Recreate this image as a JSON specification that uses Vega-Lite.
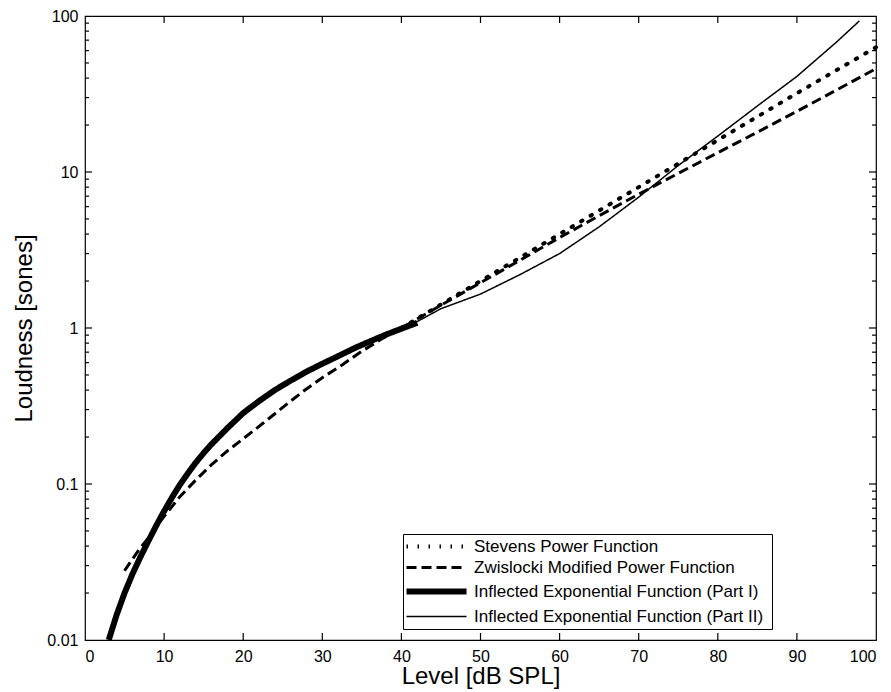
{
  "$schema": "https://vega.github.io/schema/vega-lite/v6.json",
  "width": 791,
  "height": 624,
  "autosize": {"type": "none"},
  "padding": {"left": 85, "top": 16, "right": 15, "bottom": 52},
  "background": "white",
  "config": {
    "font": "Liberation Sans",
    "view": {"stroke": "black", "strokeWidth": 1.2},
    "axis": {
      "domain": false,
      "grid": false,
      "ticks": false,
      "labelColor": "black",
      "titleColor": "black",
      "labelFont": "Liberation Sans",
      "titleFont": "Liberation Sans",
      "labelFontSize": 16,
      "titleFontSize": 24,
      "titleFontWeight": "normal"
    }
  },
  "datasets": {
    "xticks": [{"v": 10}, {"v": 20}, {"v": 30}, {"v": 40}, {"v": 50}, {"v": 60}, {"v": 70}, {"v": 80}, {"v": 90}],
    "ymajor": [{"v": 0.1}, {"v": 1}, {"v": 10}],
    "yminor": [
      {"v": 0.02}, {"v": 0.03}, {"v": 0.04}, {"v": 0.05}, {"v": 0.06}, {"v": 0.07}, {"v": 0.08}, {"v": 0.09},
      {"v": 0.2}, {"v": 0.3}, {"v": 0.4}, {"v": 0.5}, {"v": 0.6}, {"v": 0.7}, {"v": 0.8}, {"v": 0.9},
      {"v": 2}, {"v": 3}, {"v": 4}, {"v": 5}, {"v": 6}, {"v": 7}, {"v": 8}, {"v": 9},
      {"v": 20}, {"v": 30}, {"v": 40}, {"v": 50}, {"v": 60}, {"v": 70}, {"v": 80}, {"v": 90}
    ]
  },
  "data": {
    "values": [
      {"series": "Stevens Power Function", "level": 40, "loudness": 1.0},
      {"series": "Stevens Power Function", "level": 50, "loudness": 2.0},
      {"series": "Stevens Power Function", "level": 60, "loudness": 4.0},
      {"series": "Stevens Power Function", "level": 70, "loudness": 8.0},
      {"series": "Stevens Power Function", "level": 80, "loudness": 16.0},
      {"series": "Stevens Power Function", "level": 90, "loudness": 32.0},
      {"series": "Stevens Power Function", "level": 100, "loudness": 63.0},

      {"series": "Zwislocki Modified Power Function", "level": 5, "loudness": 0.0278},
      {"series": "Zwislocki Modified Power Function", "level": 6, "loudness": 0.033},
      {"series": "Zwislocki Modified Power Function", "level": 7, "loudness": 0.039},
      {"series": "Zwislocki Modified Power Function", "level": 8, "loudness": 0.045},
      {"series": "Zwislocki Modified Power Function", "level": 9, "loudness": 0.053},
      {"series": "Zwislocki Modified Power Function", "level": 10, "loudness": 0.062},
      {"series": "Zwislocki Modified Power Function", "level": 12, "loudness": 0.083},
      {"series": "Zwislocki Modified Power Function", "level": 14, "loudness": 0.106},
      {"series": "Zwislocki Modified Power Function", "level": 16, "loudness": 0.133},
      {"series": "Zwislocki Modified Power Function", "level": 18, "loudness": 0.163},
      {"series": "Zwislocki Modified Power Function", "level": 20, "loudness": 0.195},
      {"series": "Zwislocki Modified Power Function", "level": 22.5, "loudness": 0.245},
      {"series": "Zwislocki Modified Power Function", "level": 25, "loudness": 0.31},
      {"series": "Zwislocki Modified Power Function", "level": 27.5, "loudness": 0.39},
      {"series": "Zwislocki Modified Power Function", "level": 30, "loudness": 0.48},
      {"series": "Zwislocki Modified Power Function", "level": 32.5, "loudness": 0.58},
      {"series": "Zwislocki Modified Power Function", "level": 35, "loudness": 0.71},
      {"series": "Zwislocki Modified Power Function", "level": 37.5, "loudness": 0.85},
      {"series": "Zwislocki Modified Power Function", "level": 40, "loudness": 1.0},
      {"series": "Zwislocki Modified Power Function", "level": 45, "loudness": 1.4},
      {"series": "Zwislocki Modified Power Function", "level": 50, "loudness": 1.95},
      {"series": "Zwislocki Modified Power Function", "level": 55, "loudness": 2.72},
      {"series": "Zwislocki Modified Power Function", "level": 60, "loudness": 3.8},
      {"series": "Zwislocki Modified Power Function", "level": 65, "loudness": 5.25},
      {"series": "Zwislocki Modified Power Function", "level": 70, "loudness": 7.2},
      {"series": "Zwislocki Modified Power Function", "level": 75, "loudness": 9.8},
      {"series": "Zwislocki Modified Power Function", "level": 80, "loudness": 13.3},
      {"series": "Zwislocki Modified Power Function", "level": 85, "loudness": 18.0},
      {"series": "Zwislocki Modified Power Function", "level": 90, "loudness": 24.5},
      {"series": "Zwislocki Modified Power Function", "level": 95, "loudness": 33.5},
      {"series": "Zwislocki Modified Power Function", "level": 100, "loudness": 46.0},

      {"series": "Inflected Exponential Function (Part I)", "level": 3, "loudness": 0.01},
      {"series": "Inflected Exponential Function (Part I)", "level": 4, "loudness": 0.0145},
      {"series": "Inflected Exponential Function (Part I)", "level": 5, "loudness": 0.02},
      {"series": "Inflected Exponential Function (Part I)", "level": 6, "loudness": 0.0265},
      {"series": "Inflected Exponential Function (Part I)", "level": 7, "loudness": 0.034},
      {"series": "Inflected Exponential Function (Part I)", "level": 8, "loudness": 0.043},
      {"series": "Inflected Exponential Function (Part I)", "level": 9, "loudness": 0.054},
      {"series": "Inflected Exponential Function (Part I)", "level": 10, "loudness": 0.067},
      {"series": "Inflected Exponential Function (Part I)", "level": 11, "loudness": 0.082},
      {"series": "Inflected Exponential Function (Part I)", "level": 12, "loudness": 0.099},
      {"series": "Inflected Exponential Function (Part I)", "level": 13, "loudness": 0.117},
      {"series": "Inflected Exponential Function (Part I)", "level": 14, "loudness": 0.137},
      {"series": "Inflected Exponential Function (Part I)", "level": 15, "loudness": 0.158},
      {"series": "Inflected Exponential Function (Part I)", "level": 16, "loudness": 0.18},
      {"series": "Inflected Exponential Function (Part I)", "level": 18, "loudness": 0.228},
      {"series": "Inflected Exponential Function (Part I)", "level": 20, "loudness": 0.285},
      {"series": "Inflected Exponential Function (Part I)", "level": 22, "loudness": 0.34},
      {"series": "Inflected Exponential Function (Part I)", "level": 24, "loudness": 0.4},
      {"series": "Inflected Exponential Function (Part I)", "level": 26, "loudness": 0.46},
      {"series": "Inflected Exponential Function (Part I)", "level": 28, "loudness": 0.525},
      {"series": "Inflected Exponential Function (Part I)", "level": 30, "loudness": 0.59},
      {"series": "Inflected Exponential Function (Part I)", "level": 32, "loudness": 0.66},
      {"series": "Inflected Exponential Function (Part I)", "level": 34, "loudness": 0.74},
      {"series": "Inflected Exponential Function (Part I)", "level": 36, "loudness": 0.82},
      {"series": "Inflected Exponential Function (Part I)", "level": 38, "loudness": 0.905},
      {"series": "Inflected Exponential Function (Part I)", "level": 40, "loudness": 0.99},
      {"series": "Inflected Exponential Function (Part I)", "level": 42, "loudness": 1.08},

      {"series": "Inflected Exponential Function  (Part II)", "level": 40, "loudness": 1.0},
      {"series": "Inflected Exponential Function  (Part II)", "level": 42, "loudness": 1.1},
      {"series": "Inflected Exponential Function  (Part II)", "level": 45, "loudness": 1.33},
      {"series": "Inflected Exponential Function  (Part II)", "level": 50, "loudness": 1.65},
      {"series": "Inflected Exponential Function  (Part II)", "level": 55, "loudness": 2.2},
      {"series": "Inflected Exponential Function  (Part II)", "level": 60, "loudness": 3.0},
      {"series": "Inflected Exponential Function  (Part II)", "level": 65, "loudness": 4.45},
      {"series": "Inflected Exponential Function  (Part II)", "level": 70, "loudness": 6.9},
      {"series": "Inflected Exponential Function  (Part II)", "level": 75, "loudness": 11.0},
      {"series": "Inflected Exponential Function  (Part II)", "level": 80, "loudness": 17.0},
      {"series": "Inflected Exponential Function  (Part II)", "level": 85, "loudness": 26.5},
      {"series": "Inflected Exponential Function  (Part II)", "level": 90, "loudness": 41.0},
      {"series": "Inflected Exponential Function  (Part II)", "level": 95, "loudness": 68.0},
      {"series": "Inflected Exponential Function  (Part II)", "level": 97.9, "loudness": 93.0}
    ]
  },
  "layer": [
    {
      "transform": [{"filter": "datum.series === 'Stevens Power Function'"}],
      "mark": {"type": "line", "color": "black", "strokeWidth": 4, "strokeCap": "round"},
      "encoding": {
        "x": {"field": "level", "type": "quantitative", "scale": {"domain": [0, 100], "nice": false},
          "axis": {"orient": "bottom", "values": [0, 10, 20, 30, 40, 50, 60, 70, 80, 90, 100], "labelPadding": 8, "title": "Level [dB SPL]", "titlePadding": 0}},
        "y": {"field": "loudness", "type": "quantitative", "scale": {"type": "log", "domain": [0.01, 100], "nice": false},
          "axis": {"orient": "left", "values": [0.01, 0.1, 1, 10, 100], "format": "~g", "labelPadding": 7, "title": "Loudness [sones]", "titlePadding": 10}},
        "strokeDash": {
          "field": "series", "type": "nominal",
          "scale": {
            "domain": ["Stevens Power Function", "Zwislocki Modified Power Function", "Inflected Exponential Function (Part I)", "Inflected Exponential Function  (Part II)"],
            "range": [[1.5, 9.5], [10, 5], [1, 0], [1, 0]]
          },
          "legend": {
            "orient": "none",
            "legendX": 318,
            "legendY": 518,
            "title": null,
            "strokeColor": "black",
            "fillColor": "white",
            "padding": 4,
            "symbolType": "M-1,0H5.67",
            "symbolSize": 324,
            "symbolStrokeWidth": {"expr": "datum.value === 'Inflected Exponential Function (Part I)' ? 6 : datum.value === 'Inflected Exponential Function  (Part II)' ? 1.5 : datum.value === 'Stevens Power Function' ? 4 : 3"},
            "symbolStrokeColor": "black",
            "labelFont": "Liberation Sans",
            "labelFontSize": 17,
            "labelColor": "black",
            "labelOffset": 50,
            "labelLimit": 500,
            "rowPadding": 3,
            "zindex": 5
          }
        }
      }
    },
    {
      "transform": [{"filter": "datum.series === 'Zwislocki Modified Power Function'"}],
      "mark": {"type": "line", "color": "black", "strokeWidth": 3, "strokeCap": "butt"},
      "encoding": {
        "x": {"field": "level", "type": "quantitative", "axis": null},
        "y": {"field": "loudness", "type": "quantitative", "axis": null},
        "strokeDash": {"field": "series", "type": "nominal", "legend": null}
      }
    },
    {
      "transform": [{"filter": "datum.series === 'Inflected Exponential Function (Part I)'"}],
      "mark": {"type": "line", "color": "black", "strokeWidth": 6, "strokeCap": "butt"},
      "encoding": {
        "x": {"field": "level", "type": "quantitative", "axis": null},
        "y": {"field": "loudness", "type": "quantitative", "axis": null},
        "strokeDash": {"field": "series", "type": "nominal", "legend": null}
      }
    },
    {
      "transform": [{"filter": "datum.series === 'Inflected Exponential Function  (Part II)'"}],
      "mark": {"type": "line", "color": "black", "strokeWidth": 1.5, "strokeCap": "butt"},
      "encoding": {
        "x": {"field": "level", "type": "quantitative", "axis": null},
        "y": {"field": "loudness", "type": "quantitative", "axis": null},
        "strokeDash": {"field": "series", "type": "nominal", "legend": null}
      }
    },
    {
      "data": {"name": "xticks"},
      "mark": {"type": "tick", "orient": "vertical", "size": 7, "thickness": 1.2, "color": "black", "opacity": 1},
      "encoding": {
        "x": {"field": "v", "type": "quantitative", "axis": null},
        "y": {"datum": 0.01053, "type": "quantitative", "axis": null}
      }
    },
    {
      "data": {"name": "xticks"},
      "mark": {"type": "tick", "orient": "vertical", "size": 7, "thickness": 1.2, "color": "black", "opacity": 1},
      "encoding": {
        "x": {"field": "v", "type": "quantitative", "axis": null},
        "y": {"datum": 94.97, "type": "quantitative", "axis": null}
      }
    },
    {
      "data": {"name": "ymajor"},
      "mark": {"type": "tick", "orient": "horizontal", "size": 7, "thickness": 1.2, "color": "black", "opacity": 1},
      "encoding": {
        "y": {"field": "v", "type": "quantitative", "axis": null},
        "x": {"datum": 0.44, "type": "quantitative", "axis": null}
      }
    },
    {
      "data": {"name": "ymajor"},
      "mark": {"type": "tick", "orient": "horizontal", "size": 7, "thickness": 1.2, "color": "black", "opacity": 1},
      "encoding": {
        "y": {"field": "v", "type": "quantitative", "axis": null},
        "x": {"datum": 99.56, "type": "quantitative", "axis": null}
      }
    },
    {
      "data": {"name": "yminor"},
      "mark": {"type": "tick", "orient": "horizontal", "size": 4, "thickness": 1.2, "color": "black", "opacity": 1},
      "encoding": {
        "y": {"field": "v", "type": "quantitative", "axis": null},
        "x": {"datum": 0.25, "type": "quantitative", "axis": null}
      }
    },
    {
      "data": {"name": "yminor"},
      "mark": {"type": "tick", "orient": "horizontal", "size": 4, "thickness": 1.2, "color": "black", "opacity": 1},
      "encoding": {
        "y": {"field": "v", "type": "quantitative", "axis": null},
        "x": {"datum": 99.75, "type": "quantitative", "axis": null}
      }
    }
  ],
  "resolve": {"axis": {"x": "independent", "y": "independent"}}
}
